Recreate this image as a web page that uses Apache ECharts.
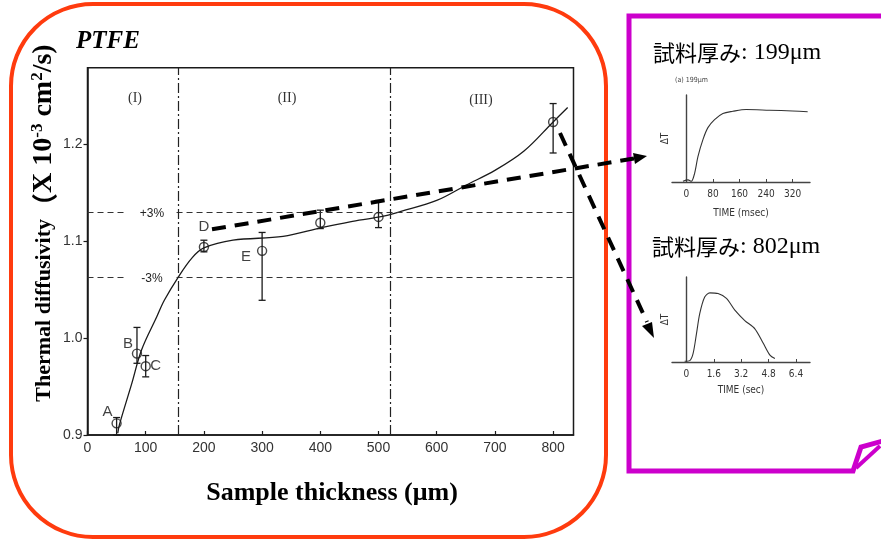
<!DOCTYPE html>
<html><head><meta charset="utf-8">
<script src="https://cdn.jsdelivr.net/npm/echarts@6/dist/echarts.min.js"></script>
<style>html,body{margin:0;padding:0;background:#fff}#c{width:881px;height:542px}</style>
</head><body><div id="c"></div>
<script>
// ---- Main chart data (PTFE thermal diffusivity vs thickness) ----
const thickness   = [50, 85, 100, 200, 300, 400, 500, 800];
const diffusivity = [0.912, 0.984, 0.971, 1.094, 1.090, 1.119, 1.125, 1.223];
const errLow      = [0.900, 0.974, 0.960, 1.089, 1.039, 1.113, 1.114, 1.191];
const errHigh     = [0.918, 1.011, 0.982, 1.101, 1.109, 1.132, 1.142, 1.242];
const pointNames  = ['A', 'B', 'C', 'D', 'E', '', '', ''];

const fitX = [52, 55, 76, 93, 119, 132, 156, 180, 200, 250, 336, 402, 451, 502, 540, 600, 651, 700, 750, 800, 825];
const fitY = [0.902, 0.911, 0.953, 0.988, 1.022, 1.039, 1.063, 1.083, 1.093, 1.101, 1.105, 1.114, 1.120, 1.125, 1.131, 1.142, 1.158, 1.173, 1.193, 1.223, 1.238];

const xTicks = [0, 100, 200, 300, 400, 500, 600, 700, 800];
const yTicks = [0.9, 1.0, 1.1, 1.2];
const bandUpper = 1.13;   // +3%
const bandLower = 1.063;  // -3%
const regionBounds = [156, 520];

// ---- Inset 1: 199 um pulse response ----
const pulse199T = [-10, 5, 15, 25, 35, 50, 65, 85, 110, 140, 180, 250, 320, 365];
const pulse199V = [0.01, 0.03, 0.01, 0.12, 0.35, 0.585, 0.75, 0.86, 0.945, 0.975, 1.0, 0.99, 0.98, 0.97];
const ticks199 = [0, 80, 160, 240, 320];

// ---- Inset 2: 802 um pulse response ----
const pulse802T = [-0.1, 0.2, 0.39, 0.59, 0.78, 1.07, 1.37, 1.85, 2.34, 2.83, 3.41, 4.0, 4.49, 4.88, 5.17];
const pulse802V = [0.01, 0.02, 0.12, 0.41, 0.70, 0.94, 1.0, 0.99, 0.92, 0.75, 0.60, 0.48, 0.27, 0.10, 0.05];
const ticks802 = [0, 1.6, 3.2, 4.8, 6.4];

// presentational label placement (not data)
const letterOffset = { A: [-9, -12], B: [-9, -10], C: [10, 0], D: [0, -20], E: [-16, 6] };

const chart = echarts.init(document.getElementById('c'), null, { renderer: 'canvas' });

const sans = 'Liberation Sans, Arial, sans-serif';
const serif = 'Liberation Serif, Times New Roman, serif';
const narrow = 'Liberation Sans Narrow, DejaVu Sans Condensed, Liberation Sans, sans-serif';
const ink = '#1a1a1a';

const dashLine = (a, b) => [{ coord: a }, { coord: b }];

const insetX = (grid, min, max, ticks, name, gap) => ({
  gridIndex: grid, type: 'value', min: min, max: max,
  axisLine: { show: true, onZero: false, lineStyle: { color: '#444', width: 1.4 } },
  axisTick: { show: true, inside: true, length: 3, customValues: ticks, lineStyle: { color: '#444' } },
  axisLabel: { customValues: ticks, margin: 7, fontSize: 10, color: '#333', fontFamily: narrow, formatter: v => String(v) },
  splitLine: { show: false },
  name: name, nameLocation: 'middle', nameGap: gap,
  nameTextStyle: { fontSize: 10, color: '#333', fontFamily: narrow }
});
const insetY = (grid, max) => ({
  gridIndex: grid, type: 'value', min: 0, max: max,
  axisLine: { show: true, lineStyle: { color: '#444', width: 1.4 } },
  axisTick: { show: false }, axisLabel: { show: false }, splitLine: { show: false },
  name: 'ΔT', nameLocation: 'middle', nameRotate: 90, nameGap: 2,
  nameTextStyle: { fontSize: 10, color: '#333', fontFamily: narrow }
});

const option = {
  backgroundColor: '#fff',
  animation: false,
  grid: [
    { left: 87.5, top: 67.7, width: 486, height: 367.3, show: true, borderColor: ink, borderWidth: 1.5, backgroundColor: 'transparent' },
    { left: 672, top: 95, width: 138, height: 87 },
    { left: 672, top: 277, width: 138, height: 85 }
  ],
  xAxis: [
    {
      gridIndex: 0, type: 'value', min: 0, max: 835,
      axisLine: { show: true, lineStyle: { color: ink, width: 1.5 } },
      axisTick: { show: true, inside: true, length: 4, customValues: xTicks, lineStyle: { color: ink, width: 1.2 } },
      axisLabel: { customValues: xTicks, margin: 6, fontSize: 14, color: '#333', fontFamily: sans },
      splitLine: { show: false }
    },
    insetX(1, -43, 372, ticks199, 'TIME (msec)', 26),
    insetX(2, -0.84, 7.22, ticks802, 'TIME (sec)', 23)
  ],
  yAxis: [
    {
      gridIndex: 0, type: 'value', min: 0.9, max: 1.279,
      axisLine: { show: true, lineStyle: { color: ink, width: 1.5 } },
      axisTick: { show: true, inside: false, length: 4, customValues: yTicks, lineStyle: { color: ink, width: 1.2 } },
      axisLabel: { customValues: yTicks, margin: 5, fontSize: 14, color: '#333', fontFamily: sans, formatter: v => v.toFixed(1) },
      splitLine: { show: false }
    },
    insetY(1, 1.2),
    insetY(2, 1.23)
  ],
  series: [
    {
      type: 'line', xAxisIndex: 0, yAxisIndex: 0,
      data: fitX.map((x, i) => [x, fitY[i]]),
      smooth: 0.35, symbol: 'none',
      lineStyle: { color: ink, width: 1.3 },
      z: 3,
      markLine: {
        silent: true, symbol: 'none', label: { show: false },
        lineStyle: { color: '#333', width: 1, type: [6, 4] },
        data: [
          dashLine([0, bandUpper], [64, bandUpper]),
          dashLine([153, bandUpper], [835, bandUpper]),
          dashLine([0, bandLower], [64, bandLower]),
          dashLine([153, bandLower], [835, bandLower]),
          {
            xAxis: regionBounds[0],
            lineStyle: { color: '#222', width: 1.2, type: [10, 3, 2, 3] }
          },
          {
            xAxis: regionBounds[1],
            lineStyle: { color: '#222', width: 1.2, type: [10, 3, 2, 3] }
          }
        ]
      }
    },
    {
      type: 'custom', xAxisIndex: 0, yAxisIndex: 0,
      data: thickness.map((x, i) => [x, errLow[i], errHigh[i]]),
      encode: { x: 0, y: [1, 2] },
      z: 4,
      renderItem: function (params, api) {
        const x = api.value(0);
        const lo = api.coord([x, api.value(1)]);
        const hi = api.coord([x, api.value(2)]);
        const w = 3.5;
        const st = { stroke: ink, lineWidth: 1.3 };
        return {
          type: 'group',
          children: [
            { type: 'line', shape: { x1: hi[0], y1: hi[1], x2: lo[0], y2: lo[1] }, style: st },
            { type: 'line', shape: { x1: hi[0] - w, y1: hi[1], x2: hi[0] + w, y2: hi[1] }, style: st },
            { type: 'line', shape: { x1: lo[0] - w, y1: lo[1], x2: lo[0] + w, y2: lo[1] }, style: st }
          ]
        };
      }
    },
    {
      type: 'scatter', xAxisIndex: 0, yAxisIndex: 0,
      z: 5,
      symbol: 'circle', symbolSize: 9,
      itemStyle: { color: 'rgba(255,255,255,0)', borderColor: ink, borderWidth: 1.4 },
      data: thickness.map((x, i) => {
        const nm = pointNames[i];
        return {
          value: [x, diffusivity[i]],
          label: nm ? {
            show: true, position: 'inside', formatter: nm, offset: letterOffset[nm],
            fontSize: 15, color: '#111', fontFamily: sans
          } : { show: false }
        };
      })
    },
    {
      type: 'line', xAxisIndex: 1, yAxisIndex: 1,
      data: pulse199T.map((t, i) => [t, pulse199V[i]]),
      smooth: 0.3, symbol: 'none', lineStyle: { color: '#333', width: 1.1 }
    },
    {
      type: 'line', xAxisIndex: 2, yAxisIndex: 2,
      data: pulse802T.map((t, i) => [t, pulse802V[i]]),
      smooth: 0.3, symbol: 'none', lineStyle: { color: '#333', width: 1.1 }
    }
  ],
  graphic: [
    // red rounded frame
    { type: 'rect', z: 1, shape: { x: 11, y: 4, width: 595, height: 533, r: 82 }, style: { fill: 'none', stroke: '#ff3b0e', lineWidth: 4 } },
    // magenta frame
    { type: 'polyline', z: 1, shape: { points: [[890, 16], [629, 16], [629, 471], [853, 471], [861, 447], [890, 439]] }, style: { fill: 'none', stroke: '#cc00cc', lineWidth: 5 } },
    { type: 'line', z: 1, shape: { x1: 856, y1: 468, x2: 880, y2: 446 }, style: { stroke: '#cc00cc', lineWidth: 4 } },
    // titles
    { type: 'text', x: 76, y: 42, style: { text: 'PTFE', font: 'italic bold 25px ' + serif, fill: '#000', textAlign: 'left', textVerticalAlign: 'middle', align: 'left', verticalAlign: 'middle' } },
    { type: 'text', x: 332, y: 493, style: { text: 'Sample thickness (μm)', font: 'bold 26px ' + serif, fill: '#000', textAlign: 'center', textVerticalAlign: 'middle', align: 'center', verticalAlign: 'middle' } },
    {
      type: 'text', x: 44, y: 223, rotation: Math.PI / 2,
      style: {
        text: '{t|Thermal diffusivity}{p|（}{u|X 10}{s|-3}{u| cm}{s|2}{u|/s)}',
        textAlign: 'center', textVerticalAlign: 'middle', align: 'center', verticalAlign: 'middle',
        rich: {
          t: { fontFamily: serif, fontWeight: 'bold', fontSize: 22, lineHeight: 30, fill: '#000', color: '#000' },
          p: { fontFamily: 'Noto Sans CJK JP', fontWeight: 'bold', fontSize: 26, lineHeight: 30, fill: '#000', color: '#000' },
          u: { fontFamily: serif, fontWeight: 'bold', fontSize: 28, lineHeight: 30, fill: '#000', color: '#000' },
          s: { fontFamily: serif, fontWeight: 'bold', fontSize: 17, lineHeight: 17, verticalAlign: 'top', fill: '#000', color: '#000' }
        }
      }
    },
    // region labels
    { type: 'text', x: 135, y: 98, style: { text: '(I)', font: '14px ' + serif, fill: '#333', textAlign: 'center', textVerticalAlign: 'middle', align: 'center', verticalAlign: 'middle' } },
    { type: 'text', x: 287, y: 98, style: { text: '(II)', font: '14px ' + serif, fill: '#333', textAlign: 'center', textVerticalAlign: 'middle', align: 'center', verticalAlign: 'middle' } },
    { type: 'text', x: 481, y: 100, style: { text: '(III)', font: '14px ' + serif, fill: '#333', textAlign: 'center', textVerticalAlign: 'middle', align: 'center', verticalAlign: 'middle' } },
    { type: 'text', x: 152, y: 214, style: { text: '+3%', font: '12px ' + sans, fill: '#222', textAlign: 'center', textVerticalAlign: 'middle', align: 'center', verticalAlign: 'middle' } },
    { type: 'text', x: 152, y: 279, style: { text: '-3%', font: '12px ' + sans, fill: '#222', textAlign: 'center', textVerticalAlign: 'middle', align: 'center', verticalAlign: 'middle' } },
    // thick dashed arrows
    { type: 'line', z: 10, shape: { x1: 212, y1: 229.3, x2: 634, y2: 158.5 }, style: { stroke: '#000', lineWidth: 4, lineDash: [14, 9] } },
    { type: 'polygon', z: 10, shape: { points: [[647, 156], [633, 153], [635, 164]] }, style: { fill: '#000' } },
    { type: 'line', z: 10, shape: { x1: 560, y1: 133, x2: 647, y2: 322 }, style: { stroke: '#000', lineWidth: 4, lineDash: [14, 9] } },
    { type: 'polygon', z: 10, shape: { points: [[654, 338], [642, 326], [652, 322]] }, style: { fill: '#000' } },
    // inset captions
    {
      type: 'text', x: 653, y: 53,
      style: {
        text: '{a|試料厚み}{b|: 199μm}', textAlign: 'left', textVerticalAlign: 'middle', align: 'left', verticalAlign: 'middle',
        rich: { a: { fontFamily: 'Noto Sans CJK JP', fontSize: 22, fill: '#000', color: '#000' }, b: { fontFamily: serif, fontSize: 24, fill: '#000', color: '#000' } }
      }
    },
    {
      type: 'text', x: 652, y: 247,
      style: {
        text: '{a|試料厚み}{b|: 802μm}', textAlign: 'left', textVerticalAlign: 'middle', align: 'left', verticalAlign: 'middle',
        rich: { a: { fontFamily: 'Noto Sans CJK JP', fontSize: 22, fill: '#000', color: '#000' }, b: { fontFamily: serif, fontSize: 24, fill: '#000', color: '#000' } }
      }
    },
    { type: 'text', x: 675, y: 80, style: { text: '(a) 199μm', font: '7px ' + narrow, fill: '#444', textAlign: 'left', textVerticalAlign: 'middle', align: 'left', verticalAlign: 'middle' } }
  ]
};
chart.setOption(option);
</script>
</body></html>
